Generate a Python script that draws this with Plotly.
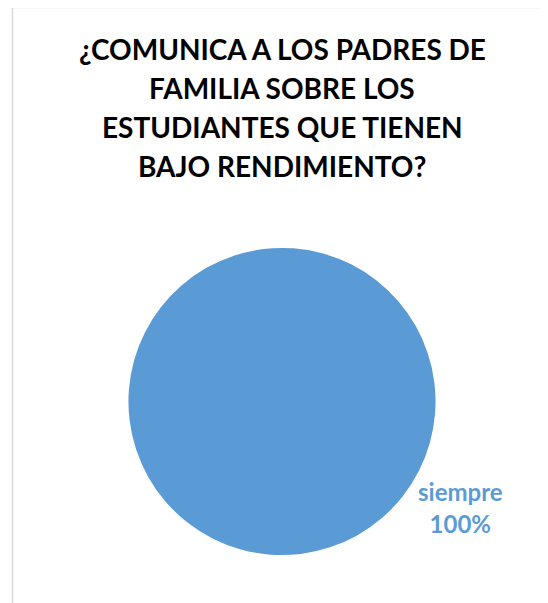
import plotly.graph_objects as go

labels = ["siempre"]
values = [100]
colors = ["#5B9BD5"]
title_lines = ["¿COMUNICA A LOS PADRES DE", "FAMILIA SOBRE LOS",
               "ESTUDIANTES QUE TIENEN", "BAJO RENDIMIENTO?"]

OFF = 8  # default body margin of the page
W, H = 548 - OFF, 603 - OFF


def px(x):
    return (x - OFF) / W


def py(y):
    return 1 - (y - OFF) / H


fig = go.Figure(go.Pie(
    labels=labels, values=values, marker=dict(colors=colors),
    textinfo="label+percent", textposition="outside",
    texttemplate="%{label}<br>%{percent:.0%}",
    textfont=dict(family="Lato", size=24, color="#5B9BD5", weight="bold"),
    rotation=-52, direction="clockwise", sort=False, showlegend=False,
    domain=dict(x=[px(128), px(436)], y=[py(555), py(248)]),
    hoverinfo="label+percent",
))

ann = []
y0 = 49
for i, t in enumerate(title_lines):
    ann.append(dict(text=t, x=px(282), y=py(y0 + 39 * i), xref="paper", yref="paper",
                    showarrow=False, xanchor="center", yanchor="middle",
                    font=dict(family="Lato", size=28, color="#000000", weight="bold")))

fig.update_layout(
    width=W, height=H, margin=dict(l=0, r=0, t=0, b=0),
    paper_bgcolor="white", plot_bgcolor="white",
    annotations=ann,
    shapes=[
        dict(type="line", xref="paper", yref="paper", x0=px(12.5), x1=1, y0=py(7.5), y1=py(7.5),
             line=dict(color="#D9D9D9", width=1.5)),
        dict(type="line", xref="paper", yref="paper", x0=px(12.5), x1=px(12.5), y0=0, y1=py(7.5),
             line=dict(color="#D9D9D9", width=1.5)),
    ],
)
fig.write_html("out.html")
